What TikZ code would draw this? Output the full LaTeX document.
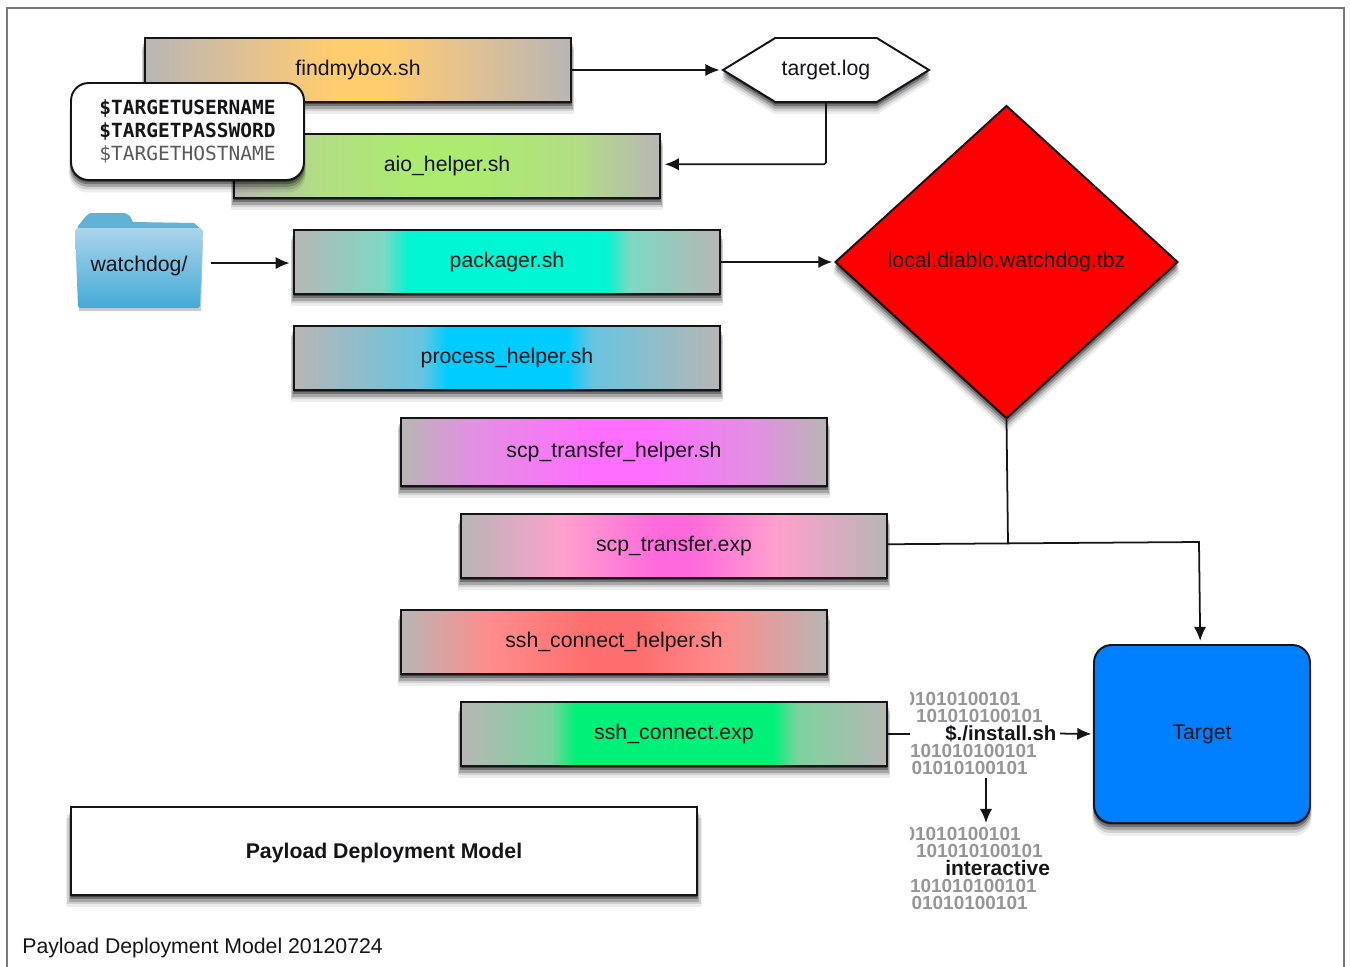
\documentclass[tikz,border=0pt]{standalone}
\usepackage{fontspec}
\usepackage{tikz}
\usepackage{xcolor}
\usetikzlibrary{shapes.geometric}
\usetikzlibrary{shapes.symbols}
\usetikzlibrary{shadows}
\usetikzlibrary{arrows.meta}
\setmainfont{Liberation Sans}
\newfontfamily\termfont{DejaVu Sans Mono}

\definecolor{barend}{RGB}{184,182,180}
\definecolor{inkdark}{RGB}{20,20,25}
\definecolor{framegray}{RGB}{120,120,120}
\definecolor{targetblue}{RGB}{0,128,255}
\definecolor{bitgray}{RGB}{150,150,150}

% name, soft colour, core colour, then the four stops
\newcommand{\declarebar}[7]{
  \definecolor{#1soft}{RGB}{#2}
  \definecolor{#1core}{RGB}{#3}
  \pgfdeclarehorizontalshading{#1}{100bp}{
    color(0bp)=(barend); color(25bp)=(barend);
    color(#4bp)=(#1soft); color(#5bp)=(#1core);
    color(#6bp)=(#1core); color(#7bp)=(#1soft);
    color(75bp)=(barend); color(100bp)=(barend)}
}
\declarebar{findbar}{222,192,150}{255,205,110}{36}{47}{53}{64}
\declarebar{aiobar}{178,222,132}{172,235,112}{35}{47}{53}{65}
\declarebar{packbar}{126,216,196}{0,245,210}{35.5}{38.5}{61.5}{64.5}
\declarebar{procbar}{104,196,224}{0,204,255}{40}{43}{57}{60}
\declarebar{scphbar}{225,145,225}{255,110,255}{33}{47.4}{54}{67}
\declarebar{scpxbar}{255,160,205}{255,105,220}{37}{48}{52}{62}
\declarebar{sshhbar}{255,140,140}{255,110,110}{35.4}{47}{53}{63}
\declarebar{sshxbar}{125,210,160}{0,240,120}{35.5}{38.5}{61.5}{64.5}

\tikzset{
  softshadow/.style={
    drop shadow={shadow xshift=0pt, shadow yshift=-1pt, opacity=.4, fill=black},
    drop shadow={shadow xshift=0pt, shadow yshift=-2.2pt, opacity=.3, fill=black, shadow scale=1.004},
    drop shadow={shadow xshift=0pt, shadow yshift=-3.6pt, opacity=.2, fill=black, shadow scale=1.008},
    drop shadow={shadow xshift=0pt, shadow yshift=-5pt, opacity=.12, fill=black, shadow scale=1.012},
    drop shadow={shadow xshift=0pt, shadow yshift=-6.5pt, opacity=.07, fill=black, shadow scale=1.016}},
  outlined/.style={draw=inkdark, line width=1.1pt, text=inkdark},
  scriptbar/.style={outlined, softshadow, shade, shading=#1,
    minimum width=8.52cm, minimum height=1.28cm, inner sep=0pt},
  conn/.style={draw=inkdark, line width=1pt},
  flow/.style={conn, ->, shorten >=1pt},
  bits/.style={font=\fontsize{10.8}{12}\selectfont\bfseries, text=bitgray, inner sep=0pt, anchor=east},
  bitlabel/.style={text=inkdark, inner sep=0pt, anchor=west}
}

\begin{document}
\begin{tikzpicture}[x=0.02cm, y=-0.02cm, >={Latex[length=8pt,width=7pt]}, font=\fontsize{12.1}{14}\selectfont]
\useasboundingbox (0,0) rectangle (1350,967);
\fill[white] (0,0) rectangle (1350,967);
\draw[framegray, line width=0.9pt] (7,967) -- (7,8) -- (1344,8) -- (1344,967);

%scripts
\node[scriptbar=findbar] (findmybox) at (358,70) {findmybox.sh};
\node[scriptbar=aiobar] (aio) at (447,166) {aio\_helper.sh};
\node[scriptbar=packbar] (packager) at (507,262) {packager.sh};
\node[scriptbar=procbar] (process) at (507,358) {process\_helper.sh};
\node[scriptbar=scphbar, minimum height=1.36cm] (scphelper) at (614,452) {scp\_transfer\_helper.sh};
\node[scriptbar=scpxbar] (scpexp) at (674,546) {scp\_transfer.exp};
\node[scriptbar=sshhbar] (sshhelper) at (614,642) {ssh\_connect\_helper.sh};
\node[scriptbar=sshxbar] (sshexp) at (674,734) {ssh\_connect.exp};

%credentials
\node[outlined, softshadow, fill=white, rounded corners=10pt, minimum width=4.66cm, minimum height=1.94cm,
      inner sep=0pt, align=left, text depth=1.5pt, font=\termfont\fontsize{11.1}{13}\selectfont] (creds) at (187.5,131.5)
  {\textbf{\$TARGETUSERNAME}\\ \textbf{\$TARGETPASSWORD}\\ {\color{black!65}\$TARGETHOSTNAME}};

%folder
\begin{scope}
  \fill[black, opacity=.2] (77,240) -- (203,240) -- (201,311) -- (79,311) -- cycle;
  \fill[color={rgb,255:red,98;green,178;blue,214}] (78,226) -- (86,216) -- (90,213) -- (125,213) -- (130,216) -- (133,222) -- (194,223) -- (201,229) -- (78,229) -- cycle;
  \shade[top color={rgb,255:red,170;green,213;blue,235}, bottom color={rgb,255:red,68;green,170;blue,214}]
    (75,231) -- (77,228) -- (200,228) -- (203,231) -- (200,306) -- (198,308) -- (80,308) -- (78,306) -- cycle;
\end{scope}
\node[minimum width=2.56cm, inner sep=0pt, text=inkdark] (watchdog) at (139,266) {watchdog/};

%outputs
\node[outlined, softshadow, fill=white, signal, signal to=west and east, signal pointer angle=63,
      minimum width=4.12cm, minimum height=1.28cm, inner sep=0pt] (targetlog) at (826,70) {target.log};
\node[outlined, softshadow, fill=red, diamond, aspect=1.096, minimum width=6.86cm, minimum height=6.26cm,
      inner sep=0pt] (tbz) at (1006.5,262) {local.diablo.watchdog.tbz};
\node[outlined, softshadow, fill=targetblue, rounded corners=10pt, minimum width=4.32cm, minimum height=3.56cm] (target) at (1202,734) {Target};
\node[outlined, softshadow, fill=white, minimum width=12.52cm, minimum height=1.76cm, text depth=0pt,
      font=\fontsize{12.1}{14}\selectfont\bfseries] (title) at (384,851) {Payload Deployment Model};
\node[anchor=west, inner sep=0pt, text=inkdark] (caption) at (22,947.5) {Payload Deployment Model 20120724};

%binary blocks
\foreach \k/\ty/\fs/\lbl in {a/0/11.6/{\$./install.sh}, b/135/11.9/{interactive}} {
  \begin{scope}[shift={(0,\ty)}]
    \begin{scope}
      \clip (910,685) rectangle (1100,780);
      \foreach \i/\rx/\ly/\digits in {1/1021/699/01010100101, 2/1043/716/101010100101, 4/1037/751/101010100101, 5/1028/768/01010100101} {
        \node[bits] (bits\k\i) at (\rx,\ly) {\digits};
      }
    \end{scope}
    \node[bitlabel, font=\fontsize{\fs}{13}\selectfont\bfseries] (label\k) at (945,733.5) {\lbl};
  \end{scope}
}

%connectors
\coordinate (sshend) at (910,734);
\coordinate (turn) at (1199,542);
\coordinate (join) at (1008,544);
\coordinate (bitsout) at (986,778);
\coordinate (bitsin) at (986,823);

\draw[flow] (findmybox.east) -- (targetlog.west);
\draw[flow, shorten >=2.2pt, rounded corners=1pt] (targetlog.south) |- ([yshift=1pt]aio.east);
\draw[flow, shorten <=4.5pt, shorten >=2pt] ([yshift=1.7pt]watchdog.east) -- ([yshift=1.7pt]watchdog.east -| packager.west);
\draw[flow] (packager.east) -- (tbz.west);
\draw[conn] (tbz.south) -- (join);
\draw[flow, shorten >=1.8pt] ([yshift=1pt]scpexp.east) -- (turn) -- ([xshift=-1pt]target.north);
\draw[conn] (sshexp.east) -- (sshend);
\draw[flow, shorten <=2pt] (labela.east) -- (target.west);
\draw[flow, shorten >=0pt] (bitsout) -- (bitsin);
\end{tikzpicture}
\end{document}
